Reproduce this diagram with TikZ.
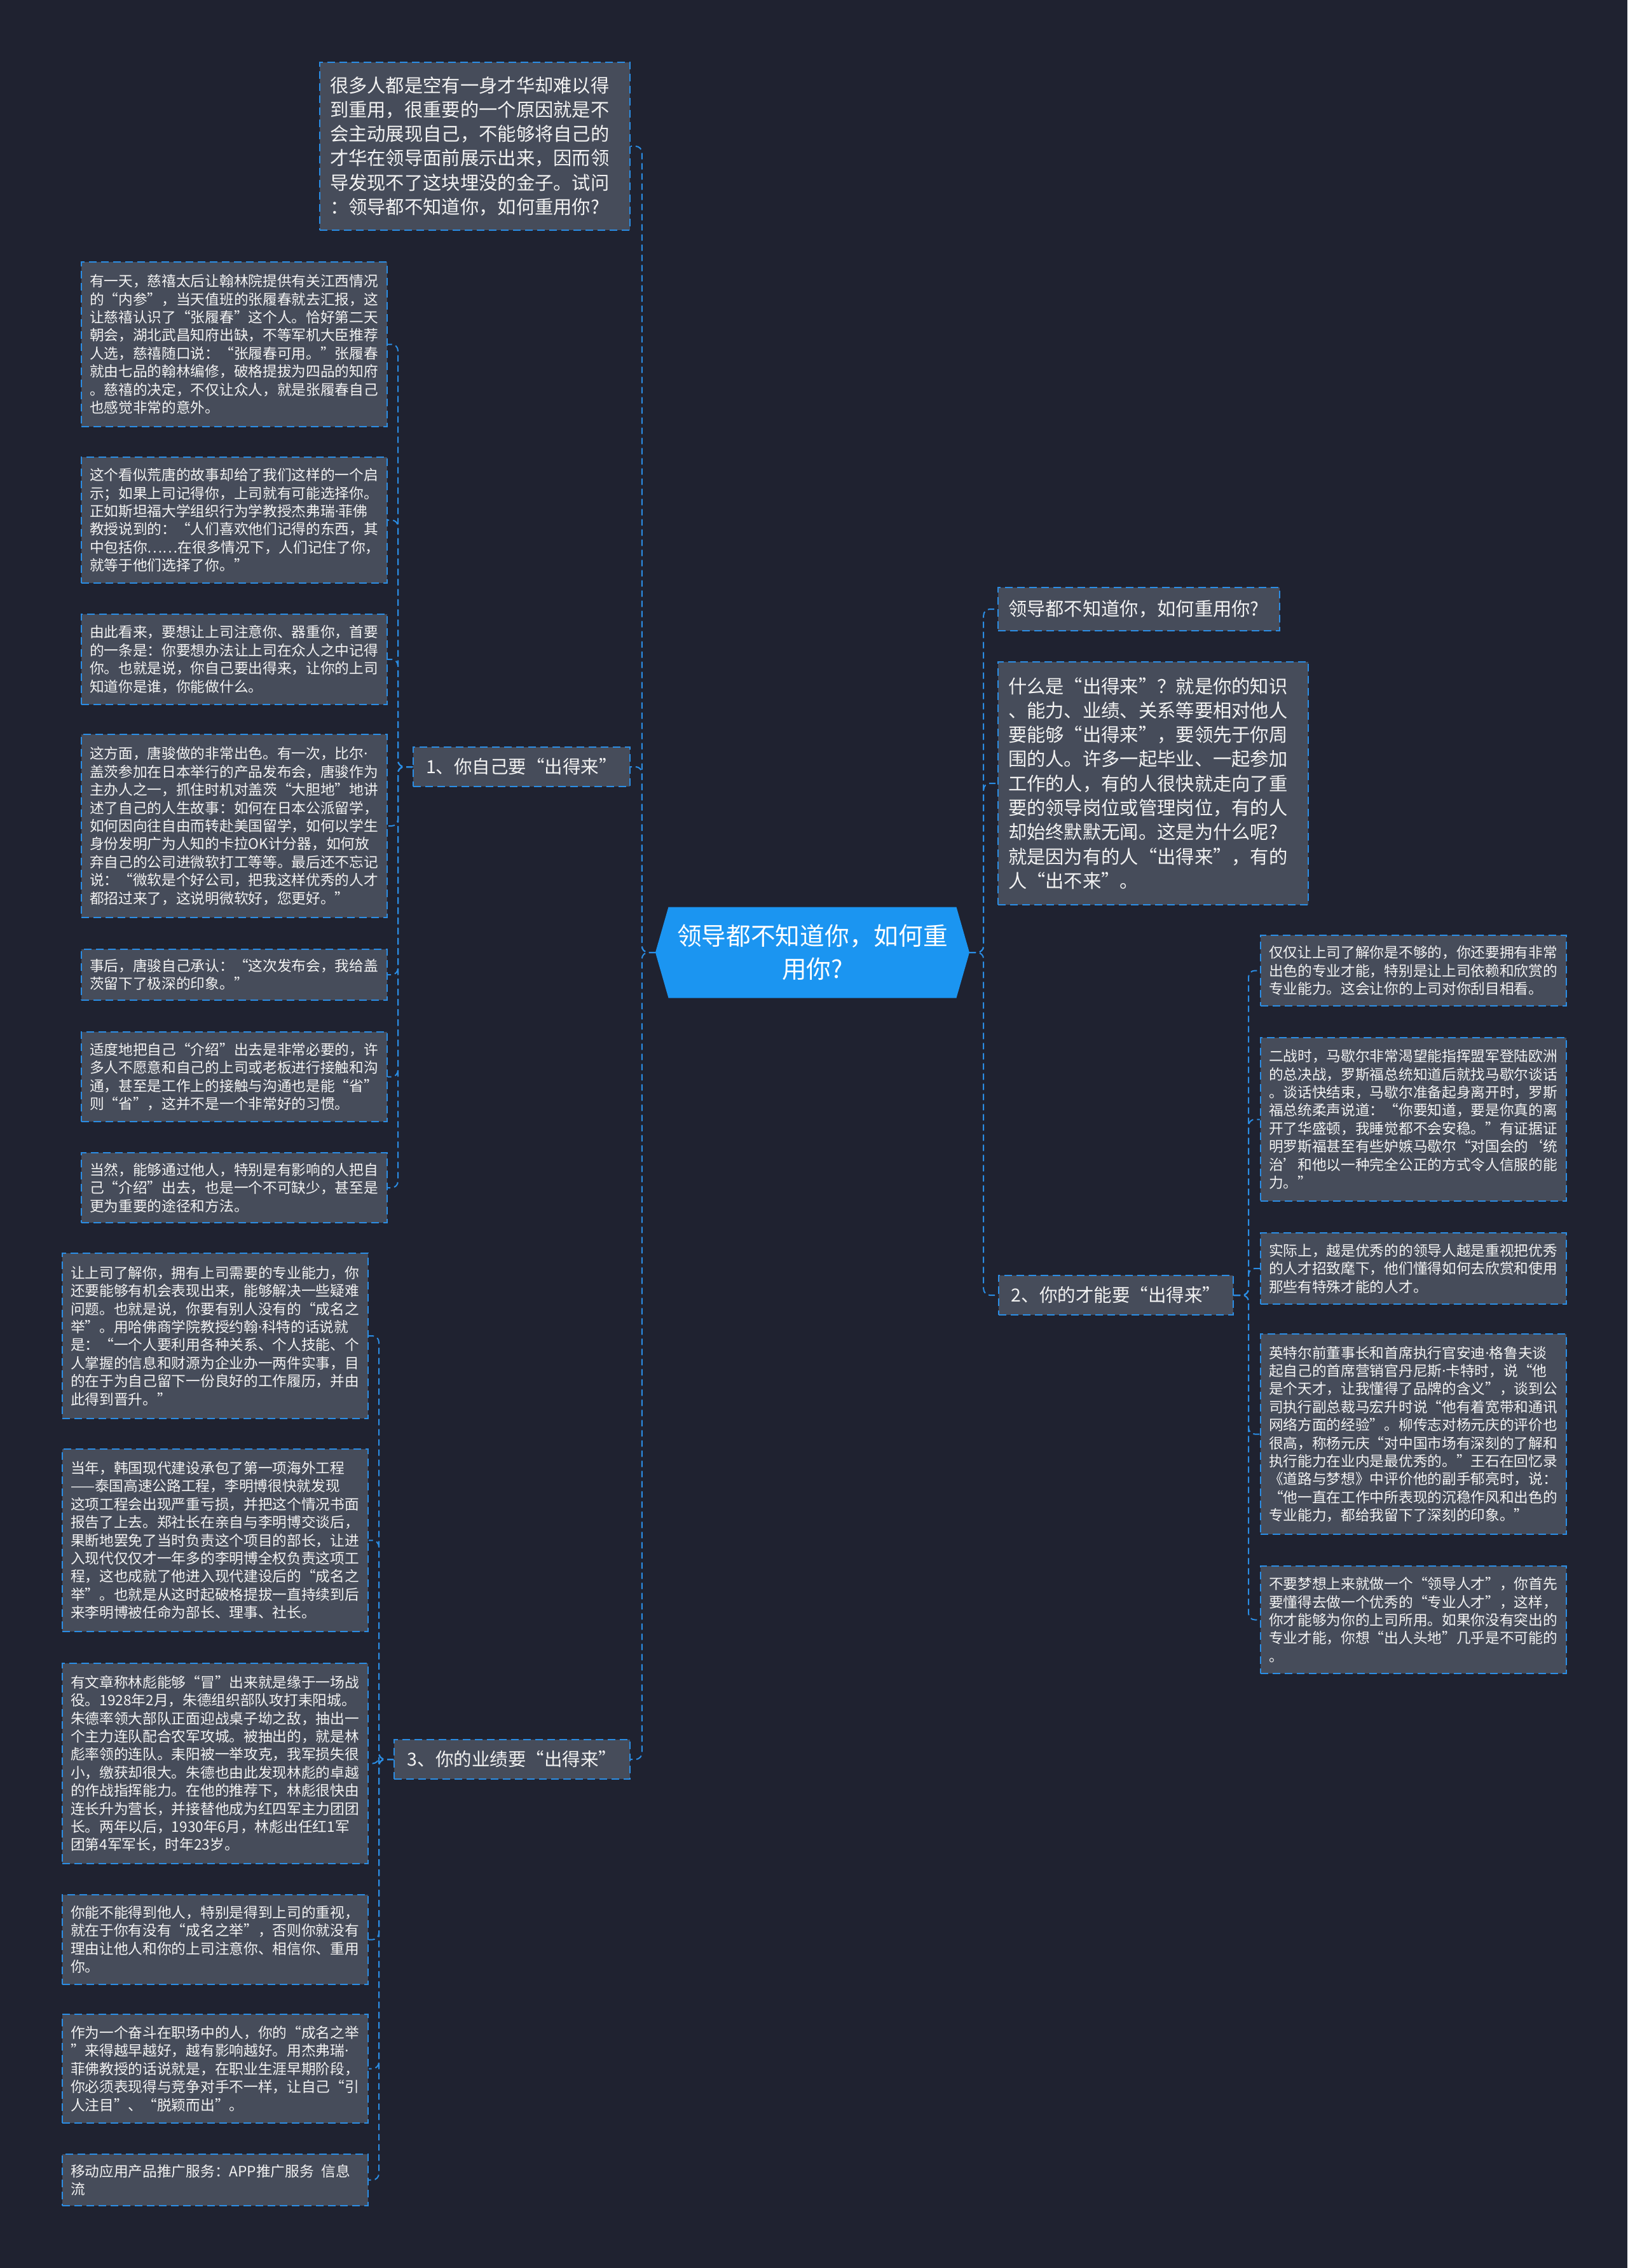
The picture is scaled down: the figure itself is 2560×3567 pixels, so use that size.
\documentclass[tikz,border=0pt]{standalone}
\usepackage{fontspec}
\setmainfont{Noto Sans CJK SC}
\newfontfamily\latinfont{Noto Sans}
\newcommand\namedot{{\latinfont ·}}
\usetikzlibrary{shapes.symbols}
\definecolor{bgnavy}{HTML}{1F2230}
\definecolor{boxgray}{HTML}{464C5A}
\definecolor{lineblue}{HTML}{2B8DE4}
\definecolor{rootblue}{HTML}{1B95F1}
\definecolor{inkwhite}{HTML}{F2F2F2}
\tikzset{
  card/.style={anchor=north west, fill=boxgray, draw=lineblue, line width=2pt,
    dash pattern=on 12pt off 7pt, text=inkwhite, align=left, inner ysep=0pt},
  smallcard/.style={card, inner xsep=13pt, text width=455pt,
    font=\fontsize{22.7}{28.4}\selectfont},
  bigcard/.style={card, inner xsep=16pt, text width=456pt,
    font=\fontsize{29.3}{38.3}\selectfont},
  branch/.style={card, align=center, inner sep=0pt, minimum height=62pt,
    font=\fontsize{28.5}{34}\selectfont},
  root/.style={shape=signal, signal to=west and east, signal pointer angle=148,
    fill=rootblue, text=white, align=center, inner sep=0pt,
    minimum width=494pt, minimum height=143pt, font=\fontsize{38.7}{52}\selectfont},
  link/.style={draw=lineblue, line width=2pt, dash pattern=on 10pt off 6pt,
    rounded corners=10pt}
}
\begin{document}
\begin{tikzpicture}[x=1pt, y=-1pt]
  \fill[bgnavy] (0,0) rectangle (2560,3567);
  \useasboundingbox (0,0) rectangle (2560,3567);
  % Root
  \node[root] (root) at (1278,1498) {领导都不知道你，如何重\\用你?};
  % Left side
  \node[bigcard, minimum height=264pt] (intro) at (502,97)
    {很多人都是空有一身才华却难以得\\到重用，很重要的一个原因就是不\\会主动展现自己，不能够将自己的\\才华在领导面前展示出来，因而领\\导发现不了这块埋没的金子。试问\\：领导都不知道你，如何重用你?};
  \node[branch, minimum width=341pt] (b1) at (649,1174) {1、你自己要“出得来”};
  \node[branch, minimum width=371pt] (b3) at (619,2735) {3、你的业绩要“出得来”};
  % Branch 1
  \node[smallcard, minimum height=259pt] (l1a) at (127,411)
    {有一天，慈禧太后让翰林院提供有关江西情况\\的“内参”，当天值班的张履春就去汇报，这\\让慈禧认识了“张履春”这个人。恰好第二天\\朝会，湖北武昌知府出缺，不等军机大臣推荐\\人选，慈禧随口说：“张履春可用。”张履春\\就由七品的翰林编修，破格提拔为四品的知府\\。慈禧的决定，不仅让众人，就是张履春自己\\也感觉非常的意外。};
  \node[smallcard, minimum height=198pt] (l1b) at (127,718)
    {这个看似荒唐的故事却给了我们这样的一个启\\示；如果上司记得你，上司就有可能选择你。\\正如斯坦福大学组织行为学教授杰弗瑞\namedot 菲佛\\教授说到的：“人们喜欢他们记得的东西，其\\中包括你……在很多情况下，人们记住了你，\\就等于他们选择了你。”};
  \node[smallcard, minimum height=142pt] (l1c) at (127,965)
    {由此看来，要想让上司注意你、器重你，首要\\的一条是：你要想办法让上司在众人之中记得\\你。也就是说，你自己要出得来，让你的上司\\知道你是谁，你能做什么。};
  \node[smallcard, minimum height=288pt] (l1d) at (127,1154)
    {这方面，唐骏做的非常出色。有一次，比尔\namedot\\盖茨参加在日本举行的产品发布会，唐骏作为\\主办人之一，抓住时机对盖茨“大胆地”地讲\\述了自己的人生故事：如何在日本公派留学，\\如何因向往自由而转赴美国留学，如何以学生\\身份发明广为人知的卡拉OK计分器，如何放\\弃自己的公司进微软打工等等。最后还不忘记\\说：“微软是个好公司，把我这样优秀的人才\\都招过来了，这说明微软好，您更好。”};
  \node[smallcard, minimum height=80pt] (l1e) at (127,1492)
    {事后，唐骏自己承认：“这次发布会，我给盖\\茨留下了极深的印象。”};
  \node[smallcard, minimum height=141pt] (l1f) at (127,1622)
    {适度地把自己“介绍”出去是非常必要的，许\\多人不愿意和自己的上司或老板进行接触和沟\\通，甚至是工作上的接触与沟通也是能“省”\\则“省”，这并不是一个非常好的习惯。};
  \node[smallcard, minimum height=110pt] (l1g) at (127,1812)
    {当然，能够通过他人，特别是有影响的人把自\\己“介绍”出去，也是一个不可缺少，甚至是\\更为重要的途径和方法。};
  % Branch 3
  \node[smallcard, minimum height=260pt] (l3a) at (97,1970)
    {让上司了解你，拥有上司需要的专业能力，你\\还要能够有机会表现出来，能够解决一些疑难\\问题。也就是说，你要有别人没有的“成名之\\举”。用哈佛商学院教授约翰\namedot 科特的话说就\\是：“一个人要利用各种关系、个人技能、个\\人掌握的信息和财源为企业办一两件实事，目\\的在于为自己留下一份良好的工作履历，并由\\此得到晋升。”};
  \node[smallcard, minimum height=287pt] (l3b) at (97,2278)
    {当年，韩国现代建设承包了第一项海外工程\\——泰国高速公路工程，李明博很快就发现\\这项工程会出现严重亏损，并把这个情况书面\\报告了上去。郑社长在亲自与李明博交谈后，\\果断地罢免了当时负责这个项目的部长，让进\\入现代仅仅才一年多的李明博全权负责这项工\\程，这也成就了他进入现代建设后的“成名之\\举”。也就是从这时起破格提拔一直持续到后\\来李明博被任命为部长、理事、社长。};
  \node[smallcard, minimum height=315pt] (l3c) at (97,2615)
    {有文章称林彪能够“冒”出来就是缘于一场战\\役。1928年2月，朱德组织部队攻打耒阳城。\\朱德率领大部队正面迎战桌子坳之敌，抽出一\\个主力连队配合农军攻城。被抽出的，就是林\\彪率领的连队。耒阳被一举攻克，我军损失很\\小，缴获却很大。朱德也由此发现林彪的卓越\\的作战指挥能力。在他的推荐下，林彪很快由\\连长升为营长，并接替他成为红四军主力团团\\长。两年以后，1930年6月，林彪出任红1军\\团第4军军长，时年23岁。};
  \node[smallcard, minimum height=141pt] (l3d) at (97,2979)
    {你能不能得到他人，特别是得到上司的重视，\\就在于你有没有“成名之举”，否则你就没有\\理由让他人和你的上司注意你、相信你、重用\\你。};
  \node[smallcard, minimum height=171pt] (l3e) at (97,3167)
    {作为一个奋斗在职场中的人，你的“成名之举\\”来得越早越好，越有影响越好。用杰弗瑞\namedot\\菲佛教授的话说就是，在职业生涯早期阶段，\\你必须表现得与竞争对手不一样，让自己“引\\人注目”、“脱颖而出”。};
  \node[smallcard, minimum height=81pt] (l3f) at (97,3387)
    {移动应用产品推广服务：APP推广服务\enspace 信息\\流};
  % Right side
  \node[bigcard, text width=411pt, minimum height=68pt] (q1) at (1569,923)
    {领导都不知道你，如何重用你?};
  \node[bigcard, minimum height=382pt] (q2) at (1569,1040)
    {什么是“出得来”？就是你的知识\\、能力、业绩、关系等要相对他人\\要能够“出得来”，要领先于你周\\围的人。许多一起毕业、一起参加\\工作的人，有的人很快就走向了重\\要的领导岗位或管理岗位，有的人\\却始终默默无闻。这是为什么呢?\\就是因为有的人“出得来”，有的\\人“出不来”。};
  \node[branch, minimum width=369pt] (b2) at (1570,2005) {2、你的才能要“出得来”};
  % Branch 2
  \node[smallcard, minimum height=111pt] (r2a) at (1982,1470)
    {仅仅让上司了解你是不够的，你还要拥有非常\\出色的专业才能，特别是让上司依赖和欣赏的\\专业能力。这会让你的上司对你刮目相看。};
  \node[smallcard, minimum height=257pt] (r2b) at (1982,1631)
    {二战时，马歇尔非常渴望能指挥盟军登陆欧洲\\的总决战，罗斯福总统知道后就找马歇尔谈话\\。谈话快结束，马歇尔准备起身离开时，罗斯\\福总统柔声说道：“你要知道，要是你真的离\\开了华盛顿，我睡觉都不会安稳。”有证据证\\明罗斯福甚至有些妒嫉马歇尔“对国会的‘统\\治’和他以一种完全公正的方式令人信服的能\\力。”};
  \node[smallcard, minimum height=112pt] (r2c) at (1982,1938)
    {实际上，越是优秀的的领导人越是重视把优秀\\的人才招致麾下，他们懂得如何去欣赏和使用\\那些有特殊才能的人才。};
  \node[smallcard, minimum height=315pt] (r2d) at (1982,2097)
    {英特尔前董事长和首席执行官安迪\namedot 格鲁夫谈\\起自己的首席营销官丹尼斯\namedot 卡特时，说“他\\是个天才，让我懂得了品牌的含义”，谈到公\\司执行副总裁马宏升时说“他有着宽带和通讯\\网络方面的经验”。柳传志对杨元庆的评价也\\很高，称杨元庆“对中国市场有深刻的了解和\\执行能力在业内是最优秀的。”王石在回忆录\\《道路与梦想》中评价他的副手郁亮时，说：\\“他一直在工作中所表现的沉稳作风和出色的\\专业能力，都给我留下了深刻的印象。”};
  \node[smallcard, minimum height=169pt] (r2e) at (1982,2462)
    {不要梦想上来就做一个“领导人才”，你首先\\要懂得去做一个优秀的“专业人才”，这样，\\你才能够为你的上司所用。如果你没有突出的\\专业才能，你想“出人头地”几乎是不可能的\\。};
  % Connectors
  \foreach \kid in {intro,b1,b3}
    \draw[link] (root.west) -- ++(-21,0) |- (\kid.east);
  \foreach \kid in {q1,q2,b2}
    \draw[link] (root.east) -- ++(22,0) |- (\kid.west);
  \foreach \kid in {l1a,l1b,l1c,l1d,l1e,l1f,l1g}
    \draw[link] (b1.west) -- ++(-23,0) |- (\kid.east);
  \foreach \kid in {l3a,l3b,l3c,l3d,l3e,l3f}
    \draw[link] (b3.west) -- ++(-23,0) |- (\kid.east);
  \foreach \kid in {r2a,r2b,r2c,r2d,r2e}
    \draw[link] (b2.east) -- ++(23,0) |- (\kid.west);
\end{tikzpicture}
\end{document}
